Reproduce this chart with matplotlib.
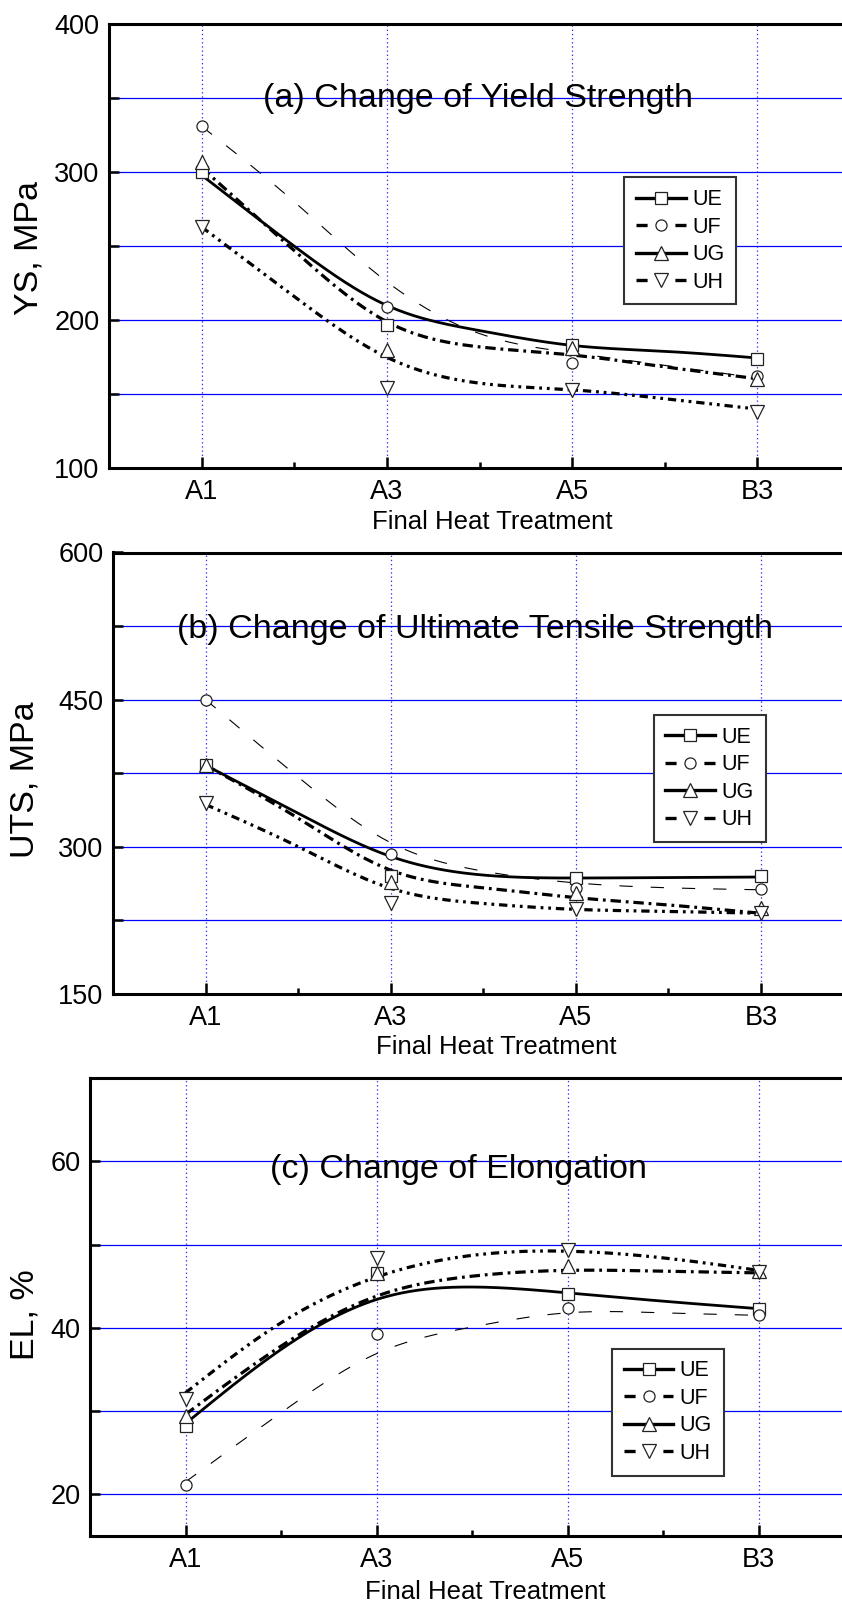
import numpy as np
import matplotlib
matplotlib.use('Agg')
import matplotlib.pyplot as plt
from matplotlib.lines import Line2D
from matplotlib.ticker import FixedLocator, MultipleLocator

plt.rcParams['font.family'] = ['Liberation Sans', 'DejaVu Sans']
plt.rcParams['lines.scale_dashes'] = False

# ---- data ----
categories = ['A1', 'A3', 'A5', 'B3']
series = ['UE', 'UF', 'UG', 'UH']

# (a) yield strength, measured points
ys_ue = [300, 197, 183, 174]
ys_uf = [331, 209, 171, 162]
ys_ug = [307, 180, 181, 160]
ys_uh = [263, 154, 153, 138]
# (a) smoothed curves, read at A1, mid, A3, mid, A5, mid, B3
ys_ue_fit = [298, 250, 210, 193, 183, 179, 174.5]
ys_uf_fit = [331, 280, 226, 191, 178, 169.5, 161]
ys_ug_fit = [303, 247, 199, 182, 176.5, 168.5, 160.5]
ys_uh_fit = [263, 216, 175, 157.5, 153, 147, 140]

# (b) ultimate tensile strength
uts_ue = [383, 270, 268, 270]
uts_uf = [450, 292, 258, 257]
uts_ug = [383, 264, 253, 237]
uts_uh = [344, 242, 236, 232]
uts_ue_fit = [383, 334, 290, 271, 268, 268.5, 269]
uts_uf_fit = [450, 371, 304, 275, 263, 258, 256]
uts_ug_fit = [383, 329, 276, 258, 248, 240.5, 232]
uts_uh_fit = [343, 300, 257.5, 242, 236, 234, 232]

# (c) elongation
el_ue = [28.2, 46.6, 44.1, 42.3]
el_uf = [21.1, 39.2, 42.4, 41.5]
el_ug = [29.4, 46.6, 47.4, 46.8]
el_uh = [31.5, 48.4, 49.4, 46.7]
el_ue_fit = [28.5, 37.4, 43.4, 44.9, 44.2, 43.2, 42.3]
el_uf_fit = [21.5, 29.8, 36.9, 40.1, 41.8, 41.8, 41.5]
el_ug_fit = [29.6, 37.8, 43.8, 46.2, 46.9, 46.8, 46.6]
el_uh_fit = [32.2, 40.6, 46.1, 48.7, 49.2, 48.4, 46.9]

# ---- styles ----
W, H = 842, 1605
styles = {
    'UE': dict(ls='-', lw=2.0, marker='s', ms=8.0),
    'UF': dict(ls=(0, (9.5, 13)), lw=0.8, marker='o', ms=8.0),
    'UG': dict(ls=(0, (7.5, 3.5, 2, 3.5)), lw=2.3, marker='^', ms=9.5),
    'UH': dict(ls=(0, (6, 3.5, 2, 3.5, 2, 3.5)), lw=2.3, marker='v', ms=9.5),
}
legend_ls = {
    'UE': '-',
    'UF': (0, (8, 20, 8, 50)),
    'UG': '-',
    'UH': (0, (8, 20, 8, 50)),
}


def spline(xk, yk, n=300):
    """natural cubic spline, only used to draw the smooth fit line"""
    xk = np.asarray(xk, float)
    yk = np.asarray(yk, float)
    h = np.diff(xk)
    m = len(xk)
    A = np.zeros((m, m))
    r = np.zeros(m)
    A[0, 0] = A[-1, -1] = 1
    for i in range(1, m - 1):
        A[i, i - 1] = h[i - 1]
        A[i, i] = 2 * (h[i - 1] + h[i])
        A[i, i + 1] = h[i]
        r[i] = 6 * ((yk[i + 1] - yk[i]) / h[i] - (yk[i] - yk[i - 1]) / h[i - 1])
    M = np.linalg.solve(A, r)
    xs = np.linspace(xk[0], xk[-1], n)
    j = np.clip(np.searchsorted(xk, xs) - 1, 0, m - 2)
    t1 = xk[j + 1] - xs
    t0 = xs - xk[j]
    hj = h[j]
    ys = (M[j] * t1 ** 3 + M[j + 1] * t0 ** 3) / (6 * hj) \
        + (yk[j] / hj - M[j] * hj / 6) * t1 + (yk[j + 1] / hj - M[j + 1] * hj / 6) * t0
    return xs, ys


def px_axes(l, t, r, b):
    return [l / W, 1 - b / H, (r - l) / W, (b - t) / H]


fig = plt.figure(figsize=(W / 100, H / 100), dpi=100)

panels = [
    dict(rect=px_axes(109, 24.1, 850, 468.3), ylim=(100, 400), major=100, minor=50,
         pts=[ys_ue, ys_uf, ys_ug, ys_uh], fits=[ys_ue_fit, ys_uf_fit, ys_ug_fit, ys_uh_fit],
         ylabel='YS, MPa', ylab_x=29.5, ylab_y=248, xlab=(492, 528.6),
         title='(a) Change of Yield Strength', title_pos=(478, 106.7),
         leg=(624.3, 177.3)),
    dict(rect=px_axes(113, 552.5, 853.5, 993.7), ylim=(150, 600), major=150, minor=75,
         pts=[uts_ue, uts_uf, uts_ug, uts_uh], fits=[uts_ue_fit, uts_uf_fit, uts_ug_fit, uts_uh_fit],
         ylabel='UTS, MPa', ylab_x=25.5, ylab_y=780, xlab=(496, 1054),
         title='(b) Change of Ultimate Tensile Strength', title_pos=(475, 637.8),
         leg=(653.6, 715)),
    dict(rect=px_axes(90, 1078, 854, 1536), ylim=(15, 70), major=20, minor=10,
         pts=[el_ue, el_uf, el_ug, el_uh], fits=[el_ue_fit, el_uf_fit, el_ug_fit, el_uh_fit],
         ylabel='EL, %', ylab_x=25, ylab_y=1315, xlab=(485, 1599),
         title='(c) Change of Elongation', title_pos=(459, 1178.2),
         leg=(612, 1348.5)),
]

xpos = np.arange(len(categories))
fit_x = np.arange(7) / 2.0

for p in panels:
    ax = fig.add_axes(p['rect'])
    ax.set_xlim(-0.5, 3.5)
    ax.set_ylim(*p['ylim'])
    ax.xaxis.set_major_locator(FixedLocator(xpos))
    ax.xaxis.set_minor_locator(FixedLocator([0.5, 1.5, 2.5]))
    ax.set_xticklabels(categories)
    ax.yaxis.set_major_locator(MultipleLocator(p['major']))
    ax.yaxis.set_minor_locator(MultipleLocator(p['minor']))

    ax.grid(True, axis='y', which='both', color='#0000ff', lw=0.9)
    ax.grid(True, axis='x', which='major', color='#3333ff', lw=0.9, ls=(0, (1, 2)))
    ax.set_axisbelow(True)

    ax.tick_params(axis='both', which='both', direction='in', width=1.8, labelsize=19.5)
    ax.tick_params(axis='x', which='major', length=8, pad=8)
    ax.tick_params(axis='x', which='minor', length=4.5)
    ax.tick_params(axis='y', which='both', length=7.5, pad=7)
    for s in ax.spines.values():
        s.set_linewidth(2.2)

    for name, yp, yf in zip(series, p['pts'], p['fits']):
        st = styles[name]
        xs, ys = spline(fit_x, yf)
        ax.plot(xs, ys, color='k', ls=st['ls'], lw=st['lw'], zorder=3)
        ax.plot(xpos, yp, ls='none', marker=st['marker'], ms=st['ms'],
                mfc='white', mec='#222222', mew=0.9, zorder=4)

    fx = lambda x: (x - p['rect'][0] * W) / (p['rect'][2] * W)
    fy = lambda y: ((1 - y / H) - p['rect'][1]) / p['rect'][3]

    ax.set_ylabel(p['ylabel'], fontsize=24.5)
    ax.yaxis.label.set_va('center')
    ax.yaxis.set_label_coords(fx(p['ylab_x']), fy(p['ylab_y']))
    ax.set_xlabel('Final Heat Treatment', fontsize=18.5)
    ax.xaxis.label.set_va('baseline')
    ax.xaxis.set_label_coords(fx(p['xlab'][0]), fy(p['xlab'][1]))

    ax.text(fx(p['title_pos'][0]), fy(p['title_pos'][1]), p['title'], transform=ax.transAxes,
            ha='center', va='baseline', fontsize=24.5, zorder=5)

    handles = [Line2D([], [], color='k', lw=2.4, ls=legend_ls[n], marker=styles[n]['marker'],
                      ms=styles[n]['ms'], mfc='white', mec='#222222', mew=0.9) for n in series]
    leg = ax.legend(handles, series, loc='upper left',
                    bbox_to_anchor=(p['leg'][0] / W, 1 - p['leg'][1] / H),
                    bbox_transform=fig.transFigure, fontsize=15.5, frameon=True,
                    fancybox=False, framealpha=1, edgecolor='#333333',
                    handlelength=2.3, handletextpad=0.3, borderpad=0.55,
                    labelspacing=0.3, borderaxespad=0)
    leg.get_frame().set_linewidth(1.5)
    leg.set_zorder(6)

fig.savefig('out.png', dpi=100)
